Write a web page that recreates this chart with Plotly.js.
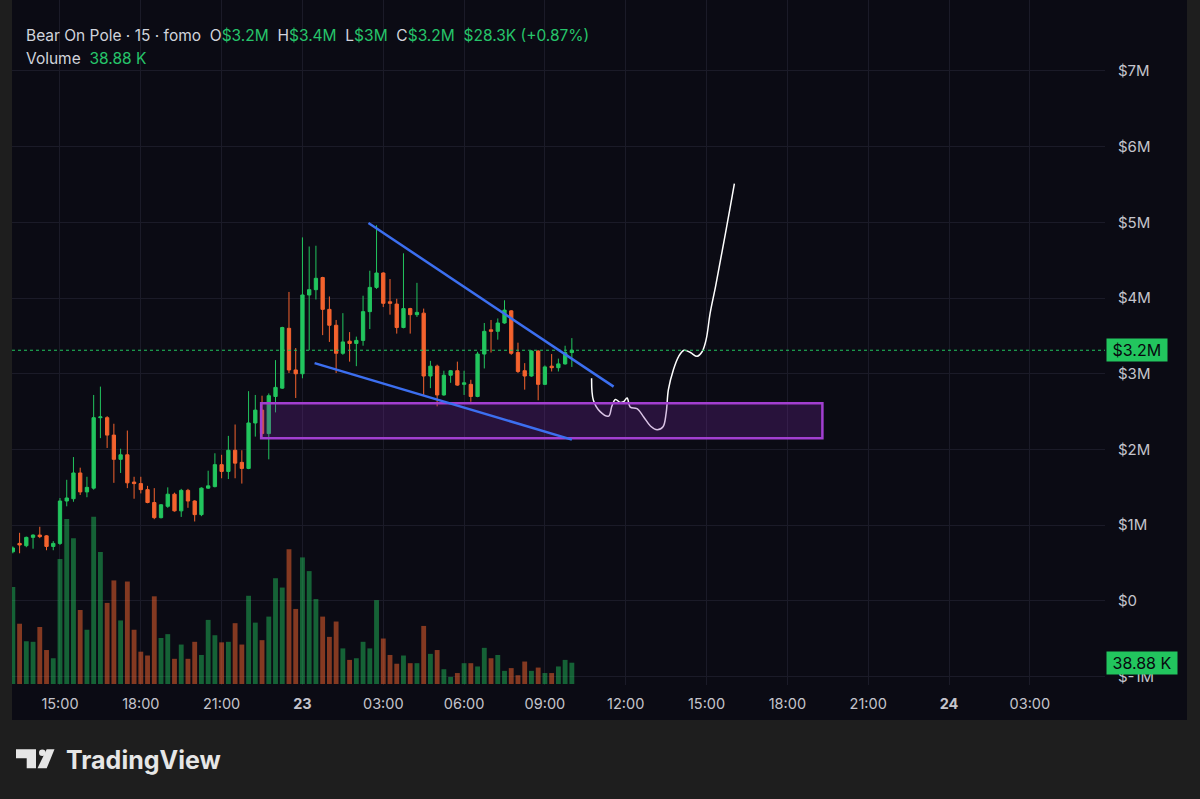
<!DOCTYPE html>
<html><head><meta charset="utf-8">
<script src="https://cdn.plot.ly/plotly-3.0.1.min.js"></script>
<style>html,body{margin:0;padding:0;background:#1e1e1e;}#chart{width:1200px;height:799px;}</style>
</head><body><div id="chart"></div>
<script>
// ---- data (prices in $M, volume in K) ----
const candleStart = '2025-01-22T13:15:00';
const candleMinutes = 15;
const openM  = [0.65,0.76,0.73,0.84,0.87,0.86,0.72,0.76,1.32,1.35,1.69,1.44,1.49,2.42,2.42,2.19,1.87,1.93,1.57,1.55,1.47,1.30,1.10,1.25,1.41,1.19,1.46,1.32,1.14,1.49,1.51,1.80,1.71,1.99,1.83,1.75,2.35,2.52,2.21,2.70,2.81,3.60,3.05,3.00,4.04,4.11,4.27,3.85,3.64,3.27,3.43,3.40,3.44,3.82,4.14,4.33,3.95,3.92,3.61,3.86,3.78,3.80,2.97,3.10,2.72,2.98,3.04,2.86,2.86,2.70,3.26,3.58,3.56,3.67,3.83,3.28,3.04,2.97,3.30,2.86,3.10,3.08,3.13,3.28];
const highM  = [0.72,0.90,0.85,0.88,0.98,0.87,0.79,1.36,1.60,1.90,1.76,1.64,2.72,2.83,2.44,2.34,2.01,2.25,1.64,1.64,1.52,1.49,1.28,1.50,1.43,1.48,1.48,1.33,1.50,1.72,1.95,1.93,2.18,2.33,1.99,2.77,2.72,2.71,2.74,3.18,3.62,4.08,3.34,4.80,4.68,4.69,4.28,4.02,3.71,3.80,3.55,3.49,4.03,4.36,4.96,4.34,4.25,3.99,4.59,3.87,4.20,3.86,3.17,3.12,3.04,3.05,3.16,3.04,2.92,3.29,3.67,3.71,3.73,3.97,3.84,3.41,3.14,3.31,3.31,3.11,3.26,3.20,3.37,3.47];
const lowM   = [0.63,0.63,0.71,0.69,0.83,0.67,0.67,0.74,1.25,1.31,1.40,1.37,1.47,2.15,2.02,1.56,1.69,1.49,1.35,1.42,1.29,1.08,1.09,1.23,1.18,1.11,1.23,1.05,1.12,1.48,1.50,1.62,1.61,1.62,1.55,1.74,2.17,2.16,1.87,2.49,2.80,3.01,2.68,2.94,3.31,3.98,3.51,3.42,3.01,3.25,3.16,3.10,3.37,3.59,4.12,3.88,3.78,3.53,3.60,3.53,3.75,2.72,2.81,2.57,2.71,2.88,2.84,2.72,2.63,2.69,3.07,3.28,3.45,3.66,3.25,3.01,2.79,2.96,2.65,2.85,3.03,3.03,3.12,3.09];
const closeM = [0.70,0.74,0.84,0.87,0.85,0.72,0.76,1.32,1.36,1.69,1.44,1.50,2.42,2.43,2.19,1.87,1.93,1.56,1.55,1.47,1.30,1.10,1.27,1.41,1.19,1.46,1.32,1.14,1.49,1.52,1.80,1.71,1.99,1.82,1.75,2.35,2.52,2.21,2.71,2.82,3.61,3.05,3.00,4.04,4.11,4.26,3.85,3.64,3.27,3.42,3.40,3.44,3.82,4.14,4.33,3.93,3.93,3.61,3.86,3.78,3.81,2.97,3.10,2.72,2.98,3.04,2.85,2.88,2.70,3.26,3.56,3.56,3.67,3.84,3.27,3.03,2.97,3.30,2.86,3.09,3.08,3.13,3.28,3.31];
const volumeK = [177,110,78,77,104,62,47,228,301,266,135,99,305,241,148,189,116,187,99,59,52,160,84,91,46,72,46,77,53,117,89,76,77,111,72,161,112,80,123,193,176,246,137,231,206,155,123,86,114,65,44,47,77,65,153,83,53,37,52,38,38,106,55,62,27,13,20,38,38,32,66,47,53,24,29,16,41,24,30,20,20,32,44,38.88];

// drawings
const upperLineT = ['2025-01-23T02:27:00','2025-01-23T11:33:00'];
const upperLineP = [4.99, 2.83];
const lowerLineT = ['2025-01-23T00:27:00','2025-01-23T10:00:00'];
const lowerLineP = [3.14, 2.13];
const zoneT = ['2025-01-22T22:28:00','2025-01-23T19:18:00'];
const zoneP = [2.15, 2.61];
const pathT = ['2025-01-23T10:44','2025-01-23T10:48','2025-01-23T11:03','2025-01-23T11:22','2025-01-23T11:29','2025-01-23T11:37','2025-01-23T11:48','2025-01-23T11:55','2025-01-23T12:03','2025-01-23T12:10','2025-01-23T12:25','2025-01-23T12:40','2025-01-23T12:55','2025-01-23T13:10','2025-01-23T13:23','2025-01-23T13:30','2025-01-23T13:35','2025-01-23T13:46','2025-01-23T13:58','2025-01-23T14:10','2025-01-23T14:24','2025-01-23T14:39','2025-01-23T14:50','2025-01-23T14:59','2025-01-23T15:08','2025-01-23T15:20','2025-01-23T15:31','2025-01-23T15:42','2025-01-23T15:53','2025-01-23T16:02'];
const pathP = [2.94,2.65,2.50,2.44,2.57,2.66,2.62,2.63,2.68,2.56,2.54,2.43,2.31,2.26,2.30,2.48,2.79,3.05,3.23,3.31,3.28,3.23,3.29,3.45,3.80,4.15,4.50,4.85,5.21,5.51];

// axes labels
const timeTickVals = ['2025-01-22T15:00','2025-01-22T18:00','2025-01-22T21:00','2025-01-23T00:00','2025-01-23T03:00','2025-01-23T06:00','2025-01-23T09:00','2025-01-23T12:00','2025-01-23T15:00','2025-01-23T18:00','2025-01-23T21:00','2025-01-24T00:00','2025-01-24T03:00'];
const timeTickText = ['15:00','18:00','21:00','<b>23</b>','03:00','06:00','09:00','12:00','15:00','18:00','21:00','<b>24</b>','03:00'];
const priceTickVals = [-1,0,1,2,3,4,5,6,7];
const priceTickText = ['$-1M','$0','$1M','$2M','$3M','$4M','$5M','$6M','$7M'];
const headerTitle = 'Bear On Pole · 15 · fomo';
const headerOHLC = [['O','$3.2M'],['H','$3.4M'],['L','$3M'],['C','$3.2M']];
const headerChange = '$28.3K (+0.87%)';
const lastPriceLabel = '$3.2M';
const lastVolumeLabel = '38.88 K';

// ---- build ----
const t0 = new Date(candleStart + 'Z').getTime();
const times = openM.map((_, i) => new Date(t0 + i * candleMinutes * 60000).toISOString().slice(0,19));
const UP = '#22c55e', DN = '#f4632e';
const volColors = closeM.map((c, i) => c >= openM[i] ? 'rgba(34,197,94,0.47)' : 'rgba(244,99,46,0.52)');

// pixel -> paper helpers for frame decorations
const PL = 12, PR = 95, PT = 0, PB = 114, PW = 1200 - PL - PR, PH = 799 - PT - PB;
const px = v => (v - PL) / PW, py = v => (PH + PT - v) / PH;
const pathFrom = pts => 'M' + pts.map(p => px(p[0]).toFixed(5) + ',' + py(p[1]).toFixed(5)).join(' L') + ' Z';

const traces = [
  { type: 'bar', x: times, y: volumeK, yaxis: 'y', marker: { color: volColors, line: { width: 0 } }, hoverinfo: 'skip' },
  { type: 'candlestick', x: times, open: openM, high: highM, low: lowM, close: closeM, yaxis: 'y2',
    increasing: { line: { color: UP, width: 1 }, fillcolor: UP },
    decreasing: { line: { color: DN, width: 1 }, fillcolor: DN },
    whiskerwidth: 0 },
  { type: 'scatter', mode: 'lines', x: pathT, y: pathP, yaxis: 'y2',
    line: { color: '#ffffff', width: 1.5, shape: 'spline', smoothing: 1 }, hoverinfo: 'skip' }
];

const green = '#26c46a', txt = '#d1d4dc';
const sp = '&nbsp;&nbsp;';
let h1 = headerTitle + sp;
headerOHLC.forEach(([k, v]) => { h1 += k + '<span style="color:' + green + '">' + v + '</span>' + sp; });
h1 += '<span style="color:' + green + '">' + headerChange + '</span>';
const h2 = 'Volume' + sp + '<span style="color:' + green + '">' + lastVolumeLabel + '</span>';

const lastClose = closeM[closeM.length - 1];
const lastVol = volumeK[volumeK.length - 1];

const layout = {
  width: 1200, height: 799,
  margin: { l: PL, r: PR, t: PT, b: PB },
  paper_bgcolor: '#1e1e1e', plot_bgcolor: 'rgba(0,0,0,0)',
  showlegend: false, bargap: 0.28, dragmode: false,
  font: { family: 'Inter, Roboto, sans-serif', color: txt },
  xaxis: { type: 'date', range: ['2025-01-22T13:13:07', '2025-01-24T05:47:24'],
    tickvals: timeTickVals, ticktext: timeTickText, ticks: '', showgrid: true, gridcolor: '#1b1b28', gridwidth: 1,
    zeroline: false, showline: false, rangeslider: { visible: false },
    tickfont: { size: 14.5, color: '#c4c4cc', family: 'Inter, sans-serif' }, ticklabelstandoff: 8 },
  yaxis: { range: [-1.8, 1248], visible: false, showgrid: false, fixedrange: true },
  yaxis2: { overlaying: 'y', side: 'right', range: [-1.109, 7.934], tickvals: priceTickVals, ticktext: priceTickText,
    showgrid: true, gridcolor: '#1b1b28', zeroline: false, showline: false, ticks: '',
    tickfont: { size: 15, color: '#c4c4cc', family: 'Inter, sans-serif' }, ticklabelstandoff: 12 },
  shapes: [
    { type: 'rect', xref: 'paper', yref: 'paper', x0: px(12), x1: px(1187), y0: py(720), y1: py(0), layer: 'below', fillcolor: '#0b0b14', line: { width: 0 } },
    { type: 'line', xref: 'paper', yref: 'y2', x0: 0, x1: 1, y0: lastClose, y1: lastClose, line: { color: UP, width: 1, dash: 'dot' } },
    { type: 'rect', xref: 'x', yref: 'y2', x0: zoneT[0], x1: zoneT[1], y0: zoneP[0], y1: zoneP[1], fillcolor: 'rgba(120,40,160,0.28)', line: { color: '#a23fd0', width: 2.5 }, layer: 'above' },
    { type: 'line', xref: 'x', yref: 'y2', x0: upperLineT[0], x1: upperLineT[1], y0: upperLineP[0], y1: upperLineP[1], line: { color: '#3c6ff0', width: 2.5 } },
    { type: 'line', xref: 'x', yref: 'y2', x0: lowerLineT[0], x1: lowerLineT[1], y0: lowerLineP[0], y1: lowerLineP[1], line: { color: '#3c6ff0', width: 2.5 } },
    { type: 'path', xref: 'paper', yref: 'paper', path: pathFrom([[16,749.3],[36,749.3],[36,768.3],[26.7,768.3],[26.7,758.3],[16,758.3]]), fillcolor: '#e6e6e6', line: { width: 0 } },
    { type: 'circle', xref: 'paper', yref: 'paper', x0: px(39), x1: px(45.6), y0: py(756), y1: py(749.4), fillcolor: '#e6e6e6', line: { width: 0 } },
    { type: 'path', xref: 'paper', yref: 'paper', path: pathFrom([[46.7,749.3],[54.5,749.3],[46.7,768.3],[37.5,768.3]]), fillcolor: '#e6e6e6', line: { width: 0 } }
  ],
  annotations: [
    { xref: 'paper', yref: 'paper', x: px(24), y: py(36), xanchor: 'left', yanchor: 'middle', showarrow: false, text: h1, font: { size: 15.5, color: txt, family: 'Inter, sans-serif' } },
    { xref: 'paper', yref: 'paper', x: px(24), y: py(58), xanchor: 'left', yanchor: 'middle', showarrow: false, text: h2, font: { size: 15.5, color: txt, family: 'Inter, sans-serif' } },
    { xref: 'paper', yref: 'y2', x: px(1106), y: lastClose, xanchor: 'left', yanchor: 'middle', showarrow: false, text: '&nbsp;' + lastPriceLabel + '&nbsp;', bgcolor: UP, borderpad: 1, font: { size: 16, color: '#08080f', family: 'Inter, sans-serif' } },
    { xref: 'paper', yref: 'y', x: px(1106), y: lastVol, xanchor: 'left', yanchor: 'middle', showarrow: false, text: '&nbsp;' + lastVolumeLabel + '&nbsp;', bgcolor: UP, borderpad: 1, font: { size: 16, color: '#08080f', family: 'Inter, sans-serif' } },
    { xref: 'paper', yref: 'paper', x: px(64), y: py(760), xanchor: 'left', yanchor: 'middle', showarrow: false, text: '<b>TradingView</b>', font: { size: 25, color: '#e6e6e6', family: 'Inter, sans-serif' } }
  ]
};

Plotly.newPlot('chart', traces, layout, { displayModeBar: false, staticPlot: true });
</script>
</body></html>
